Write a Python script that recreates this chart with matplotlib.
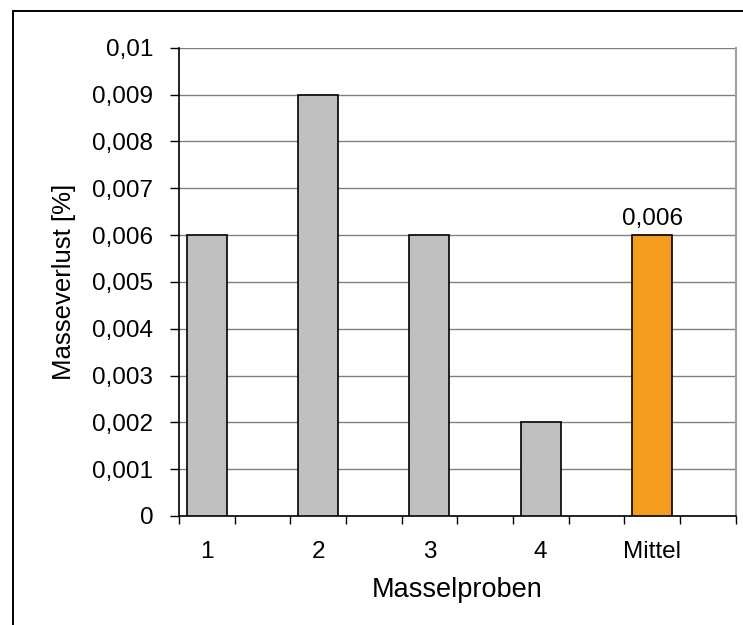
import numpy as np
import matplotlib
matplotlib.use("Agg")
import matplotlib.pyplot as plt
from matplotlib.lines import Line2D
from matplotlib.ticker import FuncFormatter, MultipleLocator

plt.rcParams.update({
    "font.family": ["Liberation Sans", "DejaVu Sans"],
    "font.size": 17.5,
})

samples = ["1", "2", "3", "4", "Mittel"]
loss = [0.006, 0.009, 0.006, 0.002, 0.006]
colors = ["#C0C0C0", "#C0C0C0", "#C0C0C0", "#C0C0C0", "#F59D1E"]
mean_label = "0,006"

W, H = 743, 625
fig = plt.figure(figsize=(W / 100, H / 100), dpi=100)
ax = fig.add_axes([179 / W, 1 - 516 / H, (735.5 - 179) / W, (516 - 47.7) / H])

# every sample sits in a slot of two category widths, bar in the first one
slots = 2 * len(samples)
xc = np.arange(len(samples)) * 2 + 0.5
ax.bar(xc, loss, width=0.72, color=colors, edgecolor="black", linewidth=1.2,
       zorder=3)
ax.text(xc[-1], loss[-1] + 0.0001, mean_label, ha="center", va="bottom",
        fontsize=17.5)

ax.set_xlim(0, slots)
ax.set_ylim(0, 0.01)
ax.yaxis.set_major_locator(MultipleLocator(0.001))
ax.yaxis.set_major_formatter(
    FuncFormatter(lambda v, _: f"{v:g}".replace(".", ",")))
ax.grid(axis="y", color="#808080", linewidth=1.0, zorder=0)

ax.set_xticks(np.arange(slots + 1))
ax.set_xticklabels([])
ax.set_xticks(xc, minor=True)
ax.set_xticklabels(samples, minor=True)
ax.tick_params(axis="x", which="major", length=6, width=1.0, direction="out")
ax.tick_params(axis="x", which="minor", length=0, pad=18)
ax.tick_params(axis="y", length=6.5, width=1.0, pad=12)

for s in ("left", "bottom"):
    ax.spines[s].set_color("black")
    ax.spines[s].set_linewidth(1.2)
ax.spines["top"].set_visible(False)
ax.spines["right"].set_color("#A0A0A0")
ax.spines["right"].set_linewidth(1.5)

ax.set_ylabel("Masseverlust [%]", fontsize=18.5, labelpad=12)
ax.set_xlabel("Masselproben", fontsize=19.5, labelpad=10)

# frame round the chart
fx, fy = 12.7 / W, 1 - 11.3 / H
fig.add_artist(Line2D([fx, fx], [0, fy], color="black", lw=1.4))
fig.add_artist(Line2D([fx, 1], [fy, fy], color="black", lw=1.4))

fig.savefig("out.png", dpi=100)
